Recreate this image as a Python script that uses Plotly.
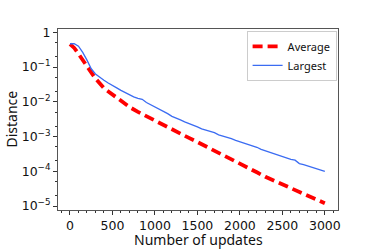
import plotly.graph_objects as go

# Number of updates
avg_x = [0, 50, 100, 200, 300, 400, 500, 600, 700, 800, 900, 1000, 1100, 1200, 1300, 1400,
         1500, 1600, 1700, 1800, 1900, 2000, 2100, 2200, 2300, 2400, 2500, 2600, 2700, 2800,
         2900, 3000]
# log10 of average distance
avg_log = [-0.34, -0.45, -0.62, -0.98, -1.33, -1.61, -1.80, -1.98, -2.15, -2.29, -2.42, -2.54,
           -2.67, -2.80, -2.92, -3.04, -3.16, -3.28, -3.40, -3.52, -3.65, -3.77, -3.90, -4.03,
           -4.16, -4.27, -4.38, -4.50, -4.61, -4.72, -4.82, -4.92]

big_x = [0, 50, 100, 150, 200, 250, 300, 350, 400, 450, 500, 550, 600, 650, 700, 750, 800, 850,
         900, 950, 1000, 1050, 1100, 1150, 1200, 1250, 1300, 1350, 1400, 1450, 1500, 1550, 1600,
         1650, 1700, 1750, 1800, 1850, 1900, 1950, 2000, 2050, 2100, 2150, 2200, 2250, 2300,
         2350, 2400, 2450, 2500, 2550, 2600, 2650, 2700, 2750, 2800, 2850, 2900, 2950, 3000]
# log10 of largest distance
big_log = [-0.33, -0.33, -0.40, -0.58, -0.80, -1.05, -1.20, -1.30, -1.38, -1.46, -1.52, -1.60,
           -1.67, -1.74, -1.80, -1.86, -1.90, -1.93, -2.02, -2.08, -2.15, -2.20, -2.28, -2.34,
           -2.42, -2.46, -2.52, -2.58, -2.62, -2.68, -2.72, -2.78, -2.81, -2.84, -2.89, -2.95,
           -2.98, -3.02, -3.06, -3.11, -3.15, -3.18, -3.22, -3.27, -3.31, -3.37, -3.41, -3.45,
           -3.50, -3.55, -3.59, -3.63, -3.66, -3.68, -3.78, -3.81, -3.85, -3.89, -3.93, -3.97,
           -4.00]

y_tickvals = [1, 1e-1, 1e-2, 1e-3, 1e-4, 1e-5]
y_ticktext = ["1", "10<sup>−1</sup>", "10<sup>−2</sup>", "10<sup>−3</sup>", "10<sup>−4</sup>",
              "10<sup>−5</sup>"]
x_tickvals = [0, 500, 1000, 1500, 2000, 2500, 3000]
x_title = "Number of updates"
y_title = "Distance"

fig = go.Figure()
fig.add_trace(go.Scatter(x=avg_x, y=[10 ** v for v in avg_log], mode="lines", name="Average",
                         line=dict(color="#ff0000", width=3.8, dash="10px,5px")))
fig.add_trace(go.Scatter(x=big_x, y=[10 ** v for v in big_log], mode="lines", name="Largest",
                         line=dict(color="#3b6cf2", width=1.3)))

tickfont = dict(family="DejaVu Sans", size=12.5, color="#111")
titlefont = dict(family="Noto Sans", size=14, color="#111")
fig.update_layout(
    width=374, height=250,
    margin=dict(l=58, r=36, t=29, b=40),
    paper_bgcolor="white", plot_bgcolor="white",
    showlegend=True,
    legend=dict(x=0.995, y=0.99, xanchor="right", yanchor="top",
                bgcolor="rgba(255,255,255,0.9)", bordercolor="#cccccc", borderwidth=1,
                font=dict(family="Noto Sans", size=11, color="#111"),
                tracegroupgap=0, itemwidth=30),
    xaxis=dict(range=[-141, 3155], tickvals=x_tickvals, ticks="outside", ticklen=4,
               tickcolor="#333", tickfont=tickfont, showgrid=False, zeroline=False,
               automargin=False,
               showline=True, linecolor="#555", linewidth=1, mirror=True,
               minor=dict(dtick=100, ticks="outside", ticklen=2, tickcolor="#333")),
    yaxis=dict(type="log", range=[-5.115, 0.095], tickvals=y_tickvals, ticktext=y_ticktext,
               ticks="outside", ticklen=4, tickcolor="#333", tickfont=tickfont,
               showgrid=False, zeroline=False, automargin=False,
               showline=True, linecolor="#555", linewidth=1, mirror=True,
               minor=dict(ticks="outside", ticklen=2, tickcolor="#333")),
    annotations=[
        dict(text=x_title, xref="paper", yref="paper", x=0.5, y=0, yshift=-18,
             xanchor="center", yanchor="top", showarrow=False, font=titlefont),
        dict(text=y_title, xref="paper", yref="paper", x=0, y=0.5, xshift=-47,
             xanchor="center", yanchor="middle", textangle=-90, showarrow=False,
             font=titlefont),
    ],
)

# remove the browser's default 8px body margin so the figure sits at the page corner
fig.write_html("out.html", config={"displayModeBar": False},
               post_script="document.body.style.margin='0';")
